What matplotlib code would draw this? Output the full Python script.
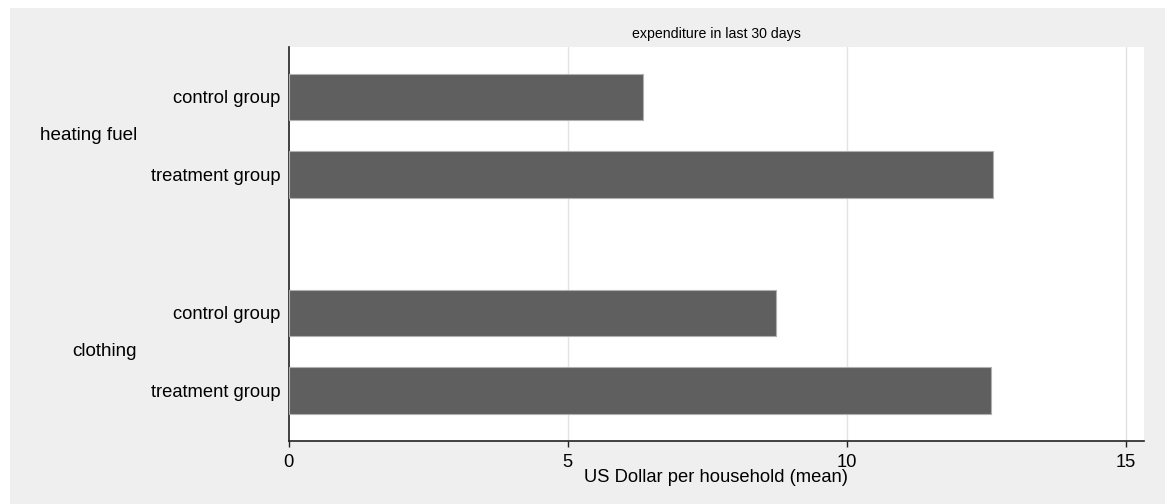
import matplotlib
matplotlib.use('Agg')
import matplotlib.pyplot as plt
from matplotlib.patches import Rectangle
from matplotlib.transforms import blended_transform_factory
import numpy as np

plt.rcParams['font.family'] = ['Liberation Sans', 'DejaVu Sans']

#### --------------------------------------------------- data

items = ['heating fuel', 'clothing']
groups = ['control group', 'treatment group']
values = {
    'heating fuel': [6.34, 12.62],
    'clothing': [8.73, 12.58],
}
xticks = [0, 5, 10, 15]

title = 'expenditure in last 30 days'
xlabel = 'US Dollar per household (mean)'

#### --------------------------------------------------- layout

W, H = 1165, 504
bar_color = '#5f5f5f'
bg = '#efefef'
group_gap = 1.79
fs = 13.2

fig = plt.figure(figsize=(W / 100, H / 100), dpi=100, facecolor='white')
fig.patches.append(Rectangle((10 / W, 0), 1 - 10 / W, 1 - 8 / H,
                             transform=fig.transFigure, facecolor=bg,
                             edgecolor='none', zorder=-10))

ax = fig.add_axes([288.5 / W, 1 - 440.7 / H, (1144 - 288.5) / W, (440.7 - 47) / H])
ax.set_facecolor('white')

ypos, ylabels, vals, centers = [], [], [], []
y = 0.0
for item in items:
    start = y
    for g, v in zip(groups, values[item]):
        ypos.append(y)
        ylabels.append(g)
        vals.append(v)
        y += 1
    centers.append((start + y - 1) / 2)
    y += group_gap - 1

ax.barh(ypos, vals, height=0.6, color=bar_color, edgecolor='#b0b0b0',
        linewidth=0.8, zorder=3)

ax.set_xlim(0, 15.32)
ax.set_ylim(ypos[-1] + 0.65, -0.644)

ax.set_xticks(xticks)
ax.set_xticklabels([str(t) for t in xticks], fontsize=fs)
ax.tick_params(axis='x', length=4.5, width=1, color='#222222', pad=5)
ax.set_yticks(ypos)
ax.set_yticklabels(ylabels, fontsize=fs)
ax.tick_params(axis='y', length=0, pad=6)

for t in xticks[1:]:
    ax.axvline(t, color='#e3e3e3', linewidth=1, zorder=1)

for s in ['top', 'right']:
    ax.spines[s].set_visible(False)
for s in ['left', 'bottom']:
    ax.spines[s].set_color('#222222')
    ax.spines[s].set_linewidth(1.2)

trans = blended_transform_factory(ax.transAxes, ax.transData)
for item, c in zip(items, centers):
    ax.text((137 - 288.5) / (1144 - 288.5), c, item, transform=trans,
            ha='right', va='center', fontsize=13.6)

fig.text(716 / W, 1 - 34 / H, title, ha='center', va='center', fontsize=10.2)
fig.text(716 / W, 1 - 477 / H, xlabel, ha='center', va='center', fontsize=fs)

plt.savefig('out.png', dpi=100, facecolor=fig.get_facecolor())
